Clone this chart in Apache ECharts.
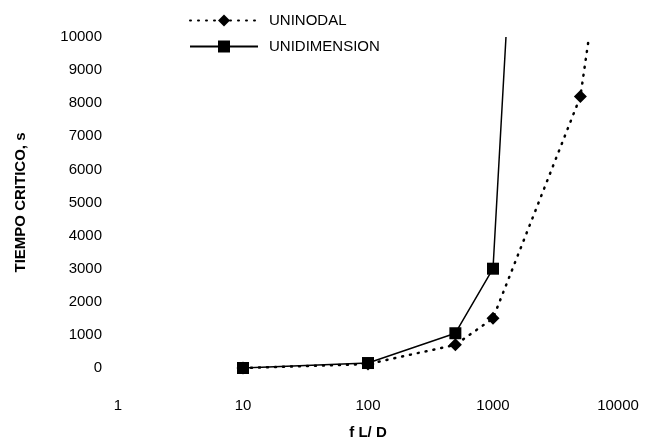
<!DOCTYPE html>
<html>
<head>
<meta charset="utf-8">
<script src="https://cdn.jsdelivr.net/npm/echarts@6/dist/echarts.min.js"></script>
<style>
  html, body { margin: 0; padding: 0; background: #fff; }
  #chart { width: 645px; height: 447px; }
</style>
</head>
<body>
<div id="chart"></div>
<script>
// valores
const fld = [10, 100, 500, 1000, 5000, 5860];
const uninodal = [0, 120, 700, 1500, 8200, 10000];
const unidimX = [10, 100, 500, 1000, 1270];
const unidim = [0, 150, 1050, 3000, 10000];
const yTicks = [0, 1000, 2000, 3000, 4000, 5000, 6000, 7000, 8000, 9000, 10000];

const font = "Liberation Sans";

function pts(xs, ys) {
  return xs.map((x, i) => {
    const p = { value: [x, ys[i]] };
    // ultimo punto solo marca donde la linea sale del grafico
    if (i === xs.length - 1) p.symbol = "none";
    return p;
  });
}

const chart = echarts.init(document.getElementById("chart"));
chart.setOption({
  animation: false,
  grid: { left: 118, right: 27, top: 37, bottom: 79 },
  legend: {
    orient: "vertical",
    left: 184,
    top: 8,
    itemWidth: 68,
    itemHeight: 15,
    itemGap: 11,
    textStyle: { fontFamily: font, fontSize: 15, color: "#000", padding: [0, 0, 0, 6] },
    data: ["UNINODAL", "UNIDIMENSION"],
  },
  xAxis: {
    type: "log",
    logBase: 10,
    min: 1,
    max: 10000,
    axisLine: { show: false },
    axisTick: { show: false },
    splitLine: { show: false },
    axisLabel: {
      fontFamily: font,
      fontSize: 15,
      color: "#000",
      margin: 30,
      formatter: (v) => String(v),
    },
    name: "f L/ D",
    nameLocation: "middle",
    nameGap: 57,
    nameTextStyle: { fontFamily: font, fontSize: 15, fontWeight: "bold", color: "#000" },
  },
  yAxis: {
    type: "value",
    min: 0,
    max: 10000,
    interval: 1000,
    axisLine: { show: false },
    axisTick: { show: false },
    splitLine: { show: false },
    axisLabel: {
      fontFamily: font,
      fontSize: 15,
      color: "#000",
      margin: 16,
      formatter: (v) => (yTicks.includes(v) ? String(v) : ""),
    },
    name: "TIEMPO CRITICO, s",
    nameLocation: "middle",
    nameRotate: 90,
    nameGap: 90,
    nameTextStyle: { fontFamily: font, fontSize: 15, fontWeight: "bold", color: "#000" },
  },
  series: [
    {
      name: "UNINODAL",
      type: "line",
      data: pts(fld, uninodal),
      symbol: "diamond",
      symbolSize: 13,
      clip: true,
      itemStyle: { color: "#000" },
      lineStyle: { color: "#000", width: 2.5, type: [1, 7], cap: "round" },
    },
    {
      name: "UNIDIMENSION",
      type: "line",
      data: pts(unidimX, unidim),
      symbol: "rect",
      symbolSize: 12,
      clip: true,
      itemStyle: { color: "#000" },
      lineStyle: { color: "#000", width: 1.5 },
    },
  ],
});
</script>
</body>
</html>
